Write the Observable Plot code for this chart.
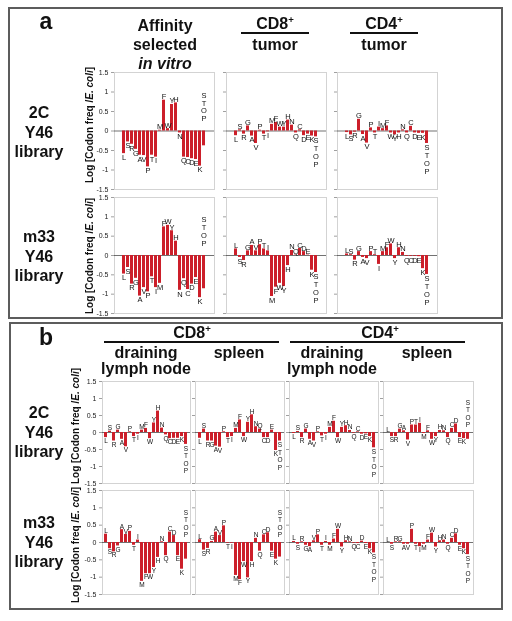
<!DOCTYPE html>
<html><head><meta charset="utf-8">
<script src="https://cdn.jsdelivr.net/npm/d3@7"></script>
<script src="https://cdn.jsdelivr.net/npm/@observablehq/plot@0.6"></script>
<style>
body{margin:0;background:#fff;}
#root{position:relative;width:512px;height:621px;overflow:hidden;background:#fff;font-family:"Liberation Sans",Arial,sans-serif;}
.panel{position:absolute;border:2px solid #5c5c5c;box-sizing:border-box;}
#root svg{position:absolute;overflow:visible;will-change:transform;}
</style></head><body><div id="root"></div>
<script>
// ---------- data ----------
const aminoAcids = ["L","S","R","G","A","V","P","T","I","M","F","W","Y","H","N","Q","C","D","E","K","STOP"];
const tickValues = [-1.5, -1, -0.5, 0, 0.5, 1, 1.5];

// Panel a: 2C Y46 library
const a2C_inVitro   = [-0.58,-0.28,-0.34,-0.47,-0.62,-0.63,-0.92,-0.62,-0.67,0.02,0.79,0.06,0.68,0.72,-0.05,-0.67,-0.68,-0.71,-0.73,-0.90,-0.38];
const a2C_cd8Tumor  = [-0.12,0.03,-0.08,0.13,-0.13,-0.32,0.02,-0.08,-0.02,0.17,0.22,0.10,0.10,0.28,0.15,-0.05,0.03,-0.12,-0.08,-0.13,-0.15];
const a2C_cd4Tumor  = [-0.04,-0.10,-0.03,0.30,-0.09,-0.31,0.08,-0.05,0.10,0.06,0.13,-0.05,-0.10,-0.05,0.03,-0.05,0.12,-0.05,-0.06,-0.06,-0.32];
// Panel a: m33 Y46 library
const am33_inVitro  = [-0.48,-0.31,-0.74,-0.59,-1.05,-0.83,-0.94,-0.55,-0.83,-0.72,0.74,0.78,0.64,0.37,-0.90,-0.60,-0.88,-0.74,-0.57,-1.09,-0.86];
const am33_cd8Tumor = [0.17,-0.05,-0.13,0.12,0.26,0.12,0.28,0.17,0.12,-1.06,-0.82,-0.72,-0.80,-0.26,0.13,0.01,0.18,0.10,0.01,-0.38,-0.44];
const am33_cd4Tumor = [0.04,0.02,-0.12,0.10,-0.05,-0.08,0.10,0.02,-0.23,0.10,0.20,0.30,-0.08,0.20,0.08,-0.02,-0.02,-0.02,-0.03,-0.34,-0.49];
// Panel b: 2C Y46 library
const b2C_cd8DLN    = [-0.15,0.04,-0.25,0.07,-0.20,-0.42,0.02,-0.12,-0.05,0.07,0.12,-0.18,0.28,0.63,0.13,-0.07,-0.18,-0.17,-0.17,-0.12,-0.35];
const b2C_cd8Spleen = [-0.17,0.10,-0.25,-0.25,-0.40,-0.43,0.02,-0.15,-0.12,0.12,0.37,-0.12,0.30,0.52,0.17,0.10,-0.15,-0.15,0.07,-0.53,-0.25];
const b2C_cd4DLN    = [-0.03,0.03,-0.15,0.10,-0.20,-0.25,0.02,-0.10,-0.05,0.15,0.33,-0.15,0.15,0.20,0.06,-0.02,0.02,-0.05,-0.04,-0.12,-0.45];
const b2C_cd4Spleen = [0.00,-0.12,-0.12,0.10,0.05,-0.22,0.22,0.22,0.27,-0.03,0.05,-0.20,-0.12,0.06,0.05,-0.15,0.12,0.25,-0.15,-0.18,-0.20];
// Panel b: m33 Y46 library
const bm33_cd8DLN    = [0.24,-0.18,-0.27,-0.10,0.37,0.23,0.32,-0.08,0.07,-1.12,-0.90,-0.90,-0.72,-0.43,0.02,-0.38,0.30,0.20,-0.38,-0.77,-0.48];
const bm33_cd8Spleen = [0.08,-0.22,-0.17,0.03,0.30,0.20,0.48,-0.02,-0.02,-0.95,-1.07,-0.55,-1.02,-0.55,0.12,-0.25,0.22,0.28,-0.25,-0.48,-0.42];
const bm33_cd4DLN    = [0.03,-0.05,0.02,-0.08,-0.12,0.05,0.22,-0.08,0.03,-0.08,0.10,0.38,-0.13,0.05,0.02,-0.02,-0.03,0.04,-0.03,-0.18,-0.30];
const bm33_cd4Spleen = [0.00,-0.05,0.02,0.02,-0.05,-0.05,0.38,-0.05,-0.12,-0.05,0.07,0.27,-0.13,0.05,0.07,-0.05,0.12,0.25,-0.08,-0.18,-0.35];

// ---------- layout ----------
const root = document.getElementById("root");
const FONT = '"Liberation Sans", Arial, sans-serif';
const RED = "#cc1f2a";

function addPanel(l, t, r, b) {
  const d = document.createElement("div");
  d.className = "panel";
  Object.assign(d.style, {left: l + "px", top: t + "px", width: (r - l) + "px", height: (b - t) + "px"});
  root.appendChild(d);
}
addPanel(8, 7, 503, 319);
addPanel(9, 322, 503, 610);

function chart(values, frameX0, frameX1, frameY0, frameY1, opts) {
  const first = opts.first;
  const ml = first ? 34 : 5, mr = 4, mt = 2, mb = 2;
  const w = frameX1 - frameX0, h = frameY1 - frameY0;
  const rows = aminoAcids.map((a, i) => ({aa: a, v: values[i]}));
  const letters = rows.filter(d => d.aa !== "STOP");
  const stop = rows.filter(d => d.aa === "STOP");
  const stopMarks = opts.stopAbove
    ? Plot.text(stop, {x: "aa", y: () => opts.stopY, text: () => "S\nT\nO\nP", lineAnchor: "bottom", fontSize: opts.fs, lineHeight: opts.lh, fill: "#111"})
    : Plot.text(stop, {x: "aa", y: "v", text: () => "S\nT\nO\nP", lineAnchor: "top", dy: 1, fontSize: opts.fs, lineHeight: opts.lh, fill: "#111"});
  const svg = Plot.plot({
    width: w + ml + mr, height: h + mt + mb,
    marginLeft: ml, marginRight: mr, marginTop: mt, marginBottom: mb,
    style: {fontFamily: FONT, background: "transparent", overflow: "visible"},
    x: {domain: aminoAcids, paddingInner: 0.18, paddingOuter: 0.08, axis: null},
    y: {domain: [-1.5, 1.5], label: null, axis: null},
    marks: [
      Plot.frame({stroke: "#d3d3d3"}),
      Plot.axisY(tickValues, {anchor: "left", tickSize: 3, tickPadding: 3, fontSize: 7, stroke: "#a0a0a0", fill: "#222",
        tickFormat: first ? (d => String(d)) : (() => ""), label: null}),
      Plot.ruleY([0], {stroke: "#333", strokeWidth: 0.7}),
      Plot.barY(rows, {x: "aa", y: "v", fill: RED}),
      Plot.text(letters.filter(d => d.v >= 0), {x: "aa", y: "v", text: "aa", lineAnchor: "bottom", dy: -1, fontSize: opts.fs, fill: "#111"}),
      Plot.text(letters.filter(d => d.v < 0), {x: "aa", y: "v", text: "aa", lineAnchor: "top", dy: 1, fontSize: opts.fs, fill: "#111"}),
      stopMarks
    ]
  });
  svg.style.left = (frameX0 - ml) + "px";
  svg.style.top = (frameY0 - mt) + "px";
  root.appendChild(svg);
}

const colsA = [[114, 214], [226, 326], [337, 437]];
const rowsA = [[72, 189], [197, 313]];
const colsB = [[102, 190], [195, 284], [289, 378], [383, 473]];
const rowsB = [[381, 483], [490, 594]];

const optA = {fs: 7.5, lh: 1.05, stopY: 0.25};
const optB = {fs: 6.5, lh: 1.15, stopY: 0.15};

const panelA = [[a2C_inVitro, a2C_cd8Tumor, a2C_cd4Tumor], [am33_inVitro, am33_cd8Tumor, am33_cd4Tumor]];
const stopAboveA = [[true, false, false], [true, false, false]];
const panelB = [[b2C_cd8DLN, b2C_cd8Spleen, b2C_cd4DLN, b2C_cd4Spleen], [bm33_cd8DLN, bm33_cd8Spleen, bm33_cd4DLN, bm33_cd4Spleen]];
const stopAboveB = [[false, false, false, true], [true, true, false, false]];

panelA.forEach((row, r) => row.forEach((vals, c) =>
  chart(vals, colsA[c][0], colsA[c][1], rowsA[r][0], rowsA[r][1], {...optA, first: c === 0, stopAbove: stopAboveA[r][c]})));
panelB.forEach((row, r) => row.forEach((vals, c) =>
  chart(vals, colsB[c][0], colsB[c][1], rowsB[r][0], rowsB[r][1], {...optB, first: c === 0, stopAbove: stopAboveB[r][c]})));

// ---------- titles & labels ----------
const ov = d3.select(root).append("svg").attr("width", 512).attr("height", 621)
  .style("left", "0px").style("top", "0px").style("font-family", FONT);

function txt(x, y, s, size, opts = {}) {
  const t = ov.append("text").attr("x", x).attr("y", y).attr("text-anchor", "middle")
    .attr("font-size", size).attr("font-weight", opts.weight || "bold").attr("fill", "#111");
  if (opts.italic) t.attr("font-style", "italic");
  if (opts.sup) {
    t.append("tspan").text(s);
    t.append("tspan").attr("font-size", size * 0.6).attr("dy", -size * 0.38).text(opts.sup);
  } else t.text(s);
  return t;
}
function line(x1, x2, y) {
  ov.append("line").attr("x1", x1).attr("x2", x2).attr("y1", y).attr("y2", y).attr("stroke", "#111").attr("stroke-width", 2);
}
function ylab(cx, cy) {
  const t = ov.append("text").attr("transform", `translate(${cx + 3.5},${cy}) rotate(-90)`)
    .attr("text-anchor", "middle").attr("font-size", 10).attr("font-weight", "bold").attr("fill", "#111");
  t.append("tspan").text("Log [Codon freq /");
  t.append("tspan").attr("font-style", "italic").text("E. coli");
  t.append("tspan").text("]");
}

// panel a
txt(46, 29, "a", 23);
txt(165, 31, "Affinity", 16);
txt(165, 50, "selected", 16);
txt(165, 69, "in vitro", 16, {italic: true});
txt(275, 29, "CD8", 16, {sup: "+"}); line(241, 309, 33); txt(275, 50, "tumor", 16);
txt(384, 29, "CD4", 16, {sup: "+"}); line(350, 418, 33); txt(384, 50, "tumor", 16);
[["2C", 118], ["Y46", 137.5], ["library", 157]].forEach(([s, y]) => txt(39, y, s, 16));
[["m33", 242], ["Y46", 262], ["library", 281]].forEach(([s, y]) => txt(39, y, s, 16));
ylab(89, 125); ylab(89, 256);

// panel b
txt(46, 345, "b", 23);
txt(192, 338, "CD8", 16, {sup: "+"}); line(104, 279, 342);
txt(380, 338, "CD4", 16, {sup: "+"}); line(290, 465, 342);
txt(146, 358, "draining", 16); txt(146, 374, "lymph node", 16);
txt(239, 358, "spleen", 16);
txt(332, 358, "draining", 16); txt(332, 374, "lymph node", 16);
txt(427, 358, "spleen", 16);
[["2C", 418], ["Y46", 437.5], ["library", 457]].forEach(([s, y]) => txt(39, y, s, 16));
[["m33", 528], ["Y46", 547.5], ["library", 567]].forEach(([s, y]) => txt(39, y, s, 16));
ylab(75, 426); ylab(75, 545);
</script></body></html>
